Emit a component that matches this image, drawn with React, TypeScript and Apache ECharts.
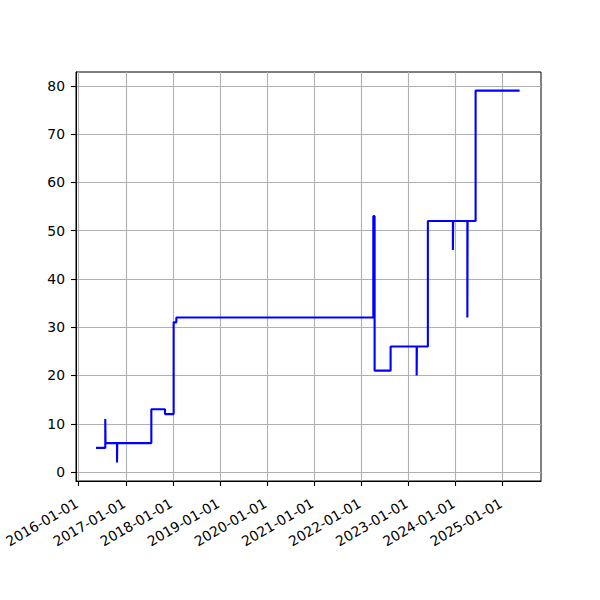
import React, { useEffect, useRef } from "react";
import * as echarts from "echarts";

const stepDates = [
  "2016-05-15", "2016-07-26", "2016-07-28", "2016-10-25", "2016-10-27",
  "2017-07-18", "2017-11-01", "2018-01-07", "2018-01-28", "2022-04-04",
  "2022-04-14", "2022-08-16", "2023-03-06", "2023-03-08", "2023-06-01",
  "2023-12-12", "2023-12-14", "2024-04-02", "2024-04-04", "2024-06-05",
  "2025-05-12",
];
const stepValues = [
  5, 11, 6, 2, 6,
  13, 12, 31, 32, 53,
  21, 26, 20, 26, 52,
  46, 52, 32, 52, 79,
  79,
];
const xTickLabels = [
  "2016-01-01", "2017-01-01", "2018-01-01", "2019-01-01", "2020-01-01",
  "2021-01-01", "2022-01-01", "2023-01-01", "2024-01-01", "2025-01-01",
];
const yTickValues = [0, 10, 20, 30, 40, 50, 60, 70, 80];

const FONT = "DejaVu Sans";

export default function App() {
  const ref = useRef<HTMLDivElement>(null);
  useEffect(() => {
    if (!ref.current) return;
    const chart = echarts.init(ref.current, null, { renderer: "svg" });
    const data = stepDates.map((d, i) => [Date.parse(d), stepValues[i]]);
    const xTicks = xTickLabels.map((d) => Date.parse(d));
    chart.setOption({
      animation: false,
      backgroundColor: "#fff",
      grid: {
        left: 76,
        right: 59,
        top: 72,
        bottom: 119,
        show: true,
        borderColor: "#000",
        borderWidth: 1,
        backgroundColor: "transparent",
        containLabel: false,
        outerBoundsMode: "none",
      },
      xAxis: {
        type: "value",
        min: Date.parse("2015-12-12"),
        max: Date.parse("2025-10-25"),
        axisLine: { show: true, onZero: false, lineStyle: { color: "#000", width: 1 } },
        axisTick: {
          show: true,
          customValues: xTicks,
          length: 5,
          lineStyle: { color: "#000", width: 1.1 },
        },
        axisLabel: {
          customValues: xTicks,
          formatter: (v: number) => new Date(v).toISOString().slice(0, 10),
          rotate: 30,
          fontSize: 13.9,
          color: "#000",
          margin: 20,
          padding: [0, 2, 0, 0],
          fontFamily: FONT,
          hideOverlap: false,
        },
        splitLine: { show: true, lineStyle: { color: "#b0b0b0", width: 1.1 } },
      },
      yAxis: {
        type: "value",
        min: -1.85,
        max: 82.85,
        axisLine: { show: true, onZero: false, lineStyle: { color: "#000", width: 1 } },
        axisTick: {
          show: true,
          customValues: yTickValues,
          length: 5,
          lineStyle: { color: "#000", width: 1.1 },
        },
        axisLabel: {
          customValues: yTickValues,
          fontSize: 13.9,
          color: "#000",
          margin: 11,
          fontFamily: FONT,
        },
        splitLine: { show: true, lineStyle: { color: "#b0b0b0", width: 1.1 } },
      },
      series: [
        {
          type: "line",
          step: "end",
          data,
          showSymbol: false,
          symbol: "none",
          lineStyle: { color: "#0000ff", width: 2.1 },
          itemStyle: { color: "#0000ff" },
        },
      ],
    });
    return () => chart.dispose();
  }, []);
  return <div ref={ref} style={{ width: 600, height: 600, position: "absolute", left: 0, top: 0 }} />;
}
